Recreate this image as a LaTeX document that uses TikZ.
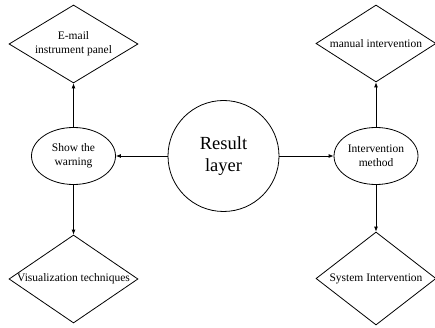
\documentclass[tikz,border=0pt]{standalone}
\usepackage{fontspec}
\setmainfont{Liberation Serif}
\usetikzlibrary{shapes.geometric,arrows.meta}
\begin{document}
\begin{tikzpicture}[x=1pt,y=-1pt,
  every node/.style={inner sep=0pt},
  dia/.style={draw,diamond,line width=0.8pt,inner sep=0pt},
  ell/.style={draw,ellipse,line width=0.8pt,minimum width=84pt,minimum height=57pt,align=center,font=\fontsize{11.5}{14}\selectfont},
  txt/.style={align=center,font=\fontsize{11.5}{14}\selectfont},
  arr/.style={line width=0.8pt,-{Latex[length=5pt,width=4pt]}}]
\useasboundingbox (0,0) rectangle (435,328);
\node[draw,circle,line width=0.8pt,minimum size=111pt,align=center,font=\fontsize{18.5}{22}\selectfont] (res) at (223.5,156) {Result\\layer};
\node[ell] (warn) at (73.5,156) {Show the\\warning};
\node[ell] (int) at (376,156) {Intervention\\method};
\node[dia,minimum width=129pt,minimum height=78pt] (d1) at (73.5,44) {};
\node[txt] (t1) at (d1) {E-mail\\instrument panel};
\node[dia,minimum width=129pt,minimum height=88pt] (d2) at (73.5,279) {};
\node[txt] (t2) at (d2) {Visualization techniques};
\node[dia,minimum width=120pt,minimum height=77pt] (d3) at (376,43.5) {};
\node[txt] (t3) at (d3) {manual intervention};
\node[dia,minimum width=120pt,minimum height=93pt] (d4) at (376,278.5) {};
\node[txt] (t4) at (d4) {System Intervention};
\draw[arr] (res.west) -- (warn.east);
\draw[arr] (res.east) -- (int.west);
\draw[arr] (warn.north) -- (d1.south);
\draw[arr] (warn.south) -- (d2.north);
\draw[arr] (int.north) -- (d3.south);
\draw[arr] (int.south) -- (d4.north);
\end{tikzpicture}
\end{document}
